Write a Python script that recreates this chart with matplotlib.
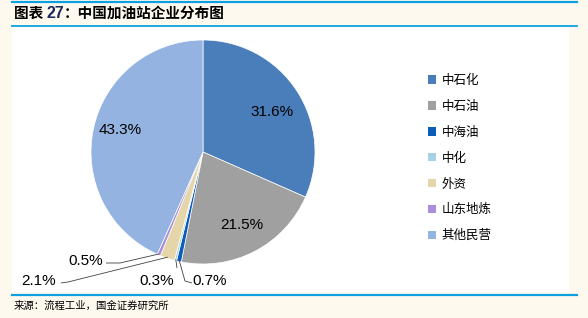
import numpy as np
import matplotlib
matplotlib.use("Agg")
import matplotlib.pyplot as plt
from matplotlib.patches import Rectangle, Patch
from matplotlib.lines import Line2D

plt.rcParams["font.family"] = ["Liberation Sans", "Noto Sans CJK SC", "DejaVu Sans"]

# ─── Dados ───────────────────────────────────────────────────────────────────
empresas = ["中石化", "中石油", "中海油", "中化", "外资", "山东地炼", "其他民营"]
participacao = [31.6, 21.5, 0.7, 0.3, 2.1, 0.5, 43.3]
cores = ["#4A7EBB", "#A0A0A0", "#0C5CBC", "#A9D1E6", "#E5D6AA", "#A990DD", "#95B3E0"]

W, H = 588, 318
BG = "#FEF9EE"
AZUL = "#0BA0E2"


def fx(x):
    return x / W


def fy(y):
    return 1 - y / H


fig = plt.figure(figsize=(W / 100, H / 100), dpi=100, facecolor=BG)

# moldura branca + linhas azuis
fig.patches.append(Rectangle((fx(12), fy(292)), fx(569) - fx(12), fy(27) - fy(292),
                             transform=fig.transFigure, facecolor="white", edgecolor="none",
                             zorder=-5))
for y, lw in [(1.5, 2.2), (26, 1.8), (294.5, 2.2)]:
    fig.add_artist(Line2D([fx(12), fx(577)], [fy(y), fy(y)], transform=fig.transFigure,
                          color=AZUL, linewidth=lw * 0.72))

# título
t1 = fig.text(fx(14), fy(13), "图表 ", fontsize=10.5, fontweight="bold", va="center",
              family=["Noto Sans CJK SC"], color="black")
fig.canvas.draw()
r = fig.canvas.get_renderer()
x_atual = t1.get_window_extent(r).x1
t2 = fig.text(x_atual / W, fy(13), "27", fontsize=11.5, fontweight="bold", va="center",
              family=["Liberation Sans"], color="#1B2A5C")
x_atual = t2.get_window_extent(r).x1
fig.text(x_atual / W, fy(13), "：中国加油站企业分布图", fontsize=10.5, fontweight="bold",
         va="center", family=["Noto Sans CJK SC"], color="black")

fig.text(fx(14), fy(306), "来源：流程工业，国金证券研究所", fontsize=7.5, va="center",
         family=["Noto Sans CJK SC"], color="black")

# ─── Pizza ───────────────────────────────────────────────────────────────────
cx, cy, R = 203, 152, 112
ax_l, ax_r, ax_t, ax_b = 12, 400, 27, 292
ax = fig.add_axes([fx(ax_l), fy(ax_b), fx(ax_r) - fx(ax_l), fy(ax_t) - fy(ax_b)])
ax.patch.set_alpha(0)
ax.set_zorder(1)

wedges, _ = ax.pie(participacao, colors=cores, startangle=90, counterclock=False,
                   radius=1, center=(0, 0), frame=False,
                   wedgeprops=dict(edgecolor="white", linewidth=0.5))
ax.set_aspect("auto")
ax.set_xlim(-(cx - ax_l) / R, (ax_r - cx) / R)
ax.set_ylim(-(ax_b - cy) / R, (cy - ax_t) / R)
ax.axis("off")


def px2d(x, y):
    return (x - cx) / R, (cy - y) / R


def meio(w):
    ang = np.deg2rad((w.theta1 + w.theta2) / 2)
    return np.cos(ang), np.sin(ang)


# rótulos internos (posição em pixels da figura)
internos = {0: (272, 112), 1: (242, 225), 6: (120, 130)}
for i, pos in internos.items():
    tx, ty = px2d(*pos)
    ax.text(tx, ty, f"{participacao[i]:.1f}%", ha="center", va="center",
            fontsize=11, color="black")

# rótulos externos com linhas de chamada
externos = {
    5: ((86, 261), [(106, 263), (120, 263)]),
    4: ((39, 281), [(61, 283), (68, 282)]),
    3: ((157, 281), [(177, 268)]),
    2: ((210, 281), [(192, 283), (185, 281)]),
}
for i, (pos, pontos) in externos.items():
    tx, ty = px2d(*pos)
    ax.text(tx, ty, f"{participacao[i]:.1f}%", ha="center", va="center",
            fontsize=11, color="black")
    c, s = meio(wedges[i])
    xs = [px2d(*p)[0] for p in pontos] + [c * 0.99]
    ys = [px2d(*p)[1] for p in pontos] + [s * 0.99]
    ax.plot(xs, ys, color="#404040", linewidth=0.6, solid_capstyle="butt")

# ─── Legenda ─────────────────────────────────────────────────────────────────
handles = [Patch(facecolor=c, edgecolor="none", label=e) for e, c in zip(empresas, cores)]
fig.legend(handles=handles, loc="upper left", bbox_to_anchor=(fx(423), fy(69)),
           frameon=False, handlelength=0.65, handleheight=0.65, handletextpad=0.45,
           labelspacing=1.03, borderaxespad=0, prop={"family": "Noto Sans CJK SC", "size": 9})

fig.savefig("out.png", dpi=100, facecolor=BG)
